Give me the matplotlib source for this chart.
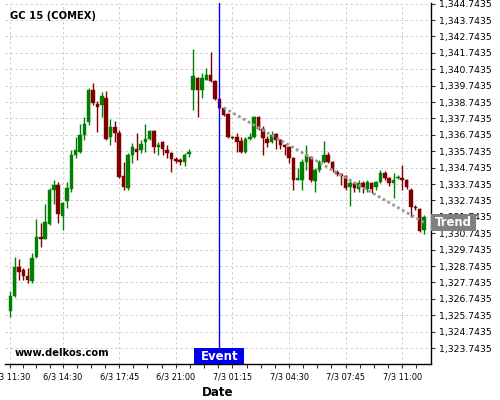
import matplotlib
matplotlib.use("Agg")
import matplotlib.pyplot as plt
import matplotlib.transforms as mtransforms
from matplotlib.patches import Rectangle
import numpy as np

# OHLC of the 15 minute candles
opens = [1326.00, 1326.91, 1328.68, 1328.50, 1328.13, 1327.83, 1329.29, 1330.51, 1330.39, 1331.30,
         1333.38, 1333.68, 1331.79, 1332.71, 1333.44, 1335.51, 1335.70, 1336.73, 1337.52, 1339.48,
         1338.62, 1338.56, 1338.99, 1336.61, 1337.22, 1336.85, 1334.23, 1333.50, 1335.51, 1335.88,
         1335.82, 1336.30, 1336.49, 1336.98, 1336.00, 1336.30, 1335.82, 1335.63, 1335.27, 1335.21,
         1335.09, 1335.57, 1339.48, 1340.21, 1339.48, 1340.09, 1340.39, 1340.02, 1338.93, 1338.38,
         1338.01, 1336.61, 1336.61, 1336.37, 1335.70, 1336.49, 1336.61, 1337.83, 1337.10, 1336.49,
         1336.30, 1336.79, 1336.43, 1336.12, 1336.00, 1335.33, 1333.99, 1333.99, 1335.09, 1335.39,
         1333.93, 1334.60, 1335.09, 1335.51, 1335.09, 1334.48, 1334.35, 1334.23, 1333.56, 1333.80,
         1333.44, 1333.80, 1333.44, 1333.80, 1333.56, 1333.87, 1334.41, 1334.11, 1333.80, 1334.11,
         1334.11, 1333.99, 1333.38, 1332.34, 1332.22, 1330.94]
highs = [1327.22, 1329.29, 1329.17, 1328.62, 1328.62, 1329.54, 1331.61, 1331.37, 1332.52, 1333.50,
         1333.99, 1333.87, 1332.65, 1333.87, 1335.82, 1336.61, 1337.40, 1337.83, 1339.60, 1339.90,
         1338.80, 1339.35, 1339.41, 1337.71, 1337.59, 1337.04, 1335.09, 1335.63, 1336.24, 1336.85,
         1336.43, 1337.40, 1337.04, 1337.04, 1336.30, 1336.37, 1336.12, 1335.70, 1335.39, 1335.33,
         1335.63, 1335.88, 1341.98, 1340.27, 1340.51, 1340.82, 1341.79, 1340.09, 1338.99, 1338.44,
         1338.07, 1336.67, 1336.85, 1336.61, 1336.61, 1336.85, 1337.89, 1337.89, 1337.28, 1336.67,
         1336.98, 1336.85, 1336.49, 1336.18, 1336.06, 1335.39, 1334.72, 1335.27, 1336.12, 1335.45,
         1334.72, 1335.21, 1336.37, 1335.70, 1335.15, 1334.60, 1334.41, 1334.29, 1333.99, 1333.87,
         1333.99, 1333.93, 1333.99, 1333.87, 1333.93, 1334.60, 1334.54, 1334.17, 1334.41, 1334.29,
         1334.90, 1334.05, 1333.50, 1332.46, 1332.28, 1331.85]
lows = [1325.63, 1326.85, 1327.89, 1327.89, 1327.71, 1327.71, 1329.23, 1329.90, 1330.39, 1331.24,
        1332.52, 1331.37, 1330.94, 1332.28, 1333.26, 1335.33, 1335.63, 1336.43, 1337.34, 1338.56,
        1336.91, 1337.83, 1336.43, 1336.12, 1336.30, 1334.11, 1333.38, 1333.38, 1335.02, 1335.21,
        1335.63, 1335.70, 1336.43, 1335.63, 1335.51, 1335.51, 1335.33, 1334.48, 1335.02, 1334.90,
        1334.84, 1335.39, 1338.26, 1337.83, 1338.99, 1340.09, 1339.96, 1338.87, 1338.32, 1337.89,
        1336.55, 1336.49, 1335.70, 1335.63, 1335.63, 1336.43, 1336.55, 1337.04, 1335.51, 1336.00,
        1336.24, 1335.88, 1335.88, 1335.51, 1335.02, 1333.38, 1333.99, 1333.38, 1334.60, 1333.87,
        1333.26, 1334.48, 1335.02, 1335.02, 1334.48, 1334.23, 1333.68, 1333.38, 1332.40, 1333.26,
        1333.26, 1333.20, 1333.26, 1333.20, 1333.38, 1333.80, 1333.99, 1333.62, 1332.89, 1334.05,
        1333.38, 1333.44, 1331.73, 1332.16, 1330.82, 1330.70]
closes = [1326.91, 1328.68, 1328.38, 1328.13, 1327.89, 1329.23, 1330.51, 1330.39, 1331.43, 1333.38,
          1333.68, 1331.91, 1332.59, 1333.50, 1335.51, 1335.82, 1336.73, 1337.40, 1339.48, 1338.68,
          1338.44, 1339.11, 1336.49, 1337.22, 1336.85, 1334.17, 1333.56, 1335.51, 1336.00, 1335.70,
          1336.18, 1336.49, 1336.98, 1336.00, 1336.12, 1335.88, 1335.63, 1335.27, 1335.15, 1335.09,
          1335.51, 1335.70, 1340.33, 1339.48, 1340.21, 1340.39, 1340.02, 1338.93, 1338.38, 1337.95,
          1336.61, 1336.55, 1336.30, 1335.70, 1336.49, 1336.61, 1337.83, 1337.10, 1336.55, 1336.24,
          1336.73, 1336.43, 1336.12, 1336.00, 1335.33, 1333.99, 1334.11, 1335.09, 1335.51, 1333.99,
          1334.60, 1335.09, 1335.51, 1335.09, 1334.66, 1334.35, 1334.23, 1333.50, 1333.80, 1333.50,
          1333.80, 1333.56, 1333.87, 1333.44, 1333.87, 1334.41, 1334.11, 1333.80, 1333.99, 1334.17,
          1333.99, 1333.56, 1332.34, 1332.28, 1330.88, 1331.73]

tick_labels = ["6/3 11:30", "6/3 14:30", "6/3 17:45", "6/3 21:00",
               "7/3 01:15", "7/3 04:30", "7/3 07:45", "7/3 11:00"]
tick_idx = [0, 12, 25, 38, 51, 64, 77, 90]
y_ticks = [1323.7435 + i for i in range(22)]

event_idx = 48
trend_idx = [49, 95]
trend_val = [1338.40, 1331.40]

GREEN = "#008000"
RED = "#800000"

fig = plt.figure(figsize=(5, 4), dpi=100)
ax = fig.add_axes([0.01, 0.09, 0.851, 0.9015])

x = np.arange(len(opens))
o = np.array(opens)
c = np.array(closes)
up = c >= o
cols = [GREEN if u else RED for u in up]

ax.vlines(x, lows, highs, colors=cols, linewidth=1, zorder=2)
body_h = np.maximum(np.abs(c - o), 0.04)
ax.bar(x, body_h, bottom=np.minimum(o, c), width=0.8, color=cols,
       edgecolor=cols, linewidth=0.3, zorder=3)

# trend line
ax.plot(trend_idx, trend_val, color="#999999", linestyle=(0, (1, 1)),
        linewidth=2, zorder=4)

# event line
ax.axvline(event_idx, color="#0000ff", linewidth=1, zorder=5)

ax.set_xlim(-1.22, 96.49)
ax.set_ylim(1322.77, 1344.76)

ax.set_xticks(tick_idx)
ax.set_xticklabels(tick_labels, fontsize=5.9)
minor = [3, 6, 9] + [t + k * 3.25 for t in tick_idx[1:] for k in (1, 2, 3)]
ax.set_xticks([m for m in minor if m < 96.4], minor=True)

ax.yaxis.tick_right()
ax.set_yticks(y_ticks)
ax.set_yticklabels([f"{v:,.4f}" for v in y_ticks], fontsize=6.7)

ax.tick_params(axis="both", which="both", direction="out", length=3,
               width=0.8, colors="#333333", labelcolor="black")
ax.tick_params(axis="y", pad=3)
ax.tick_params(axis="x", pad=3)

for s in ("left", "top"):
    ax.spines[s].set_visible(False)
for s in ("right", "bottom"):
    ax.spines[s].set_linewidth(1)
    ax.spines[s].set_color("black")

ax.grid(True, which="major", color="#c8c8c8", linestyle=(0, (3, 3)),
        linewidth=0.6)
ax.set_axisbelow(True)

ax.set_xlabel("Date", fontsize=8.6, fontweight="bold", labelpad=3)

ax.text(5 / 425.5, 0.965, "GC 15 (COMEX)", transform=ax.transAxes,
        fontsize=7.2, fontweight="bold", va="center", ha="left")
ax.text(10 / 425.5, 0.03, "www.delkos.com", transform=ax.transAxes,
        fontsize=7.2, fontweight="bold", va="center", ha="left")

# Event label at the bottom of the event line
bt = mtransforms.blended_transform_factory(ax.transData, ax.transAxes)
ax.add_patch(Rectangle((event_idx - 5.75, 0), 11.5, 16 / 360.7,
                       transform=bt, facecolor="#0000ee", edgecolor="none",
                       zorder=6, clip_on=False))
ax.text(event_idx, 8 / 360.7, "Event", transform=bt, color="white",
        fontsize=8.5, fontweight="bold", ha="center", va="center", zorder=7)

# Trend label on the right axis
tt = mtransforms.blended_transform_factory(ax.transAxes, ax.transData)
ax.add_patch(Rectangle((1.0, trend_val[1] - 0.49), 45 / 425.5, 0.98,
                       transform=tt, facecolor="#808080", edgecolor="none",
                       zorder=6, clip_on=False))
ax.text(1.0 + 22.5 / 425.5, trend_val[1], "Trend", transform=tt,
        color="white", fontsize=8.4, fontweight="bold", ha="center",
        va="center", zorder=7)

fig.savefig("out.png", dpi=100)
